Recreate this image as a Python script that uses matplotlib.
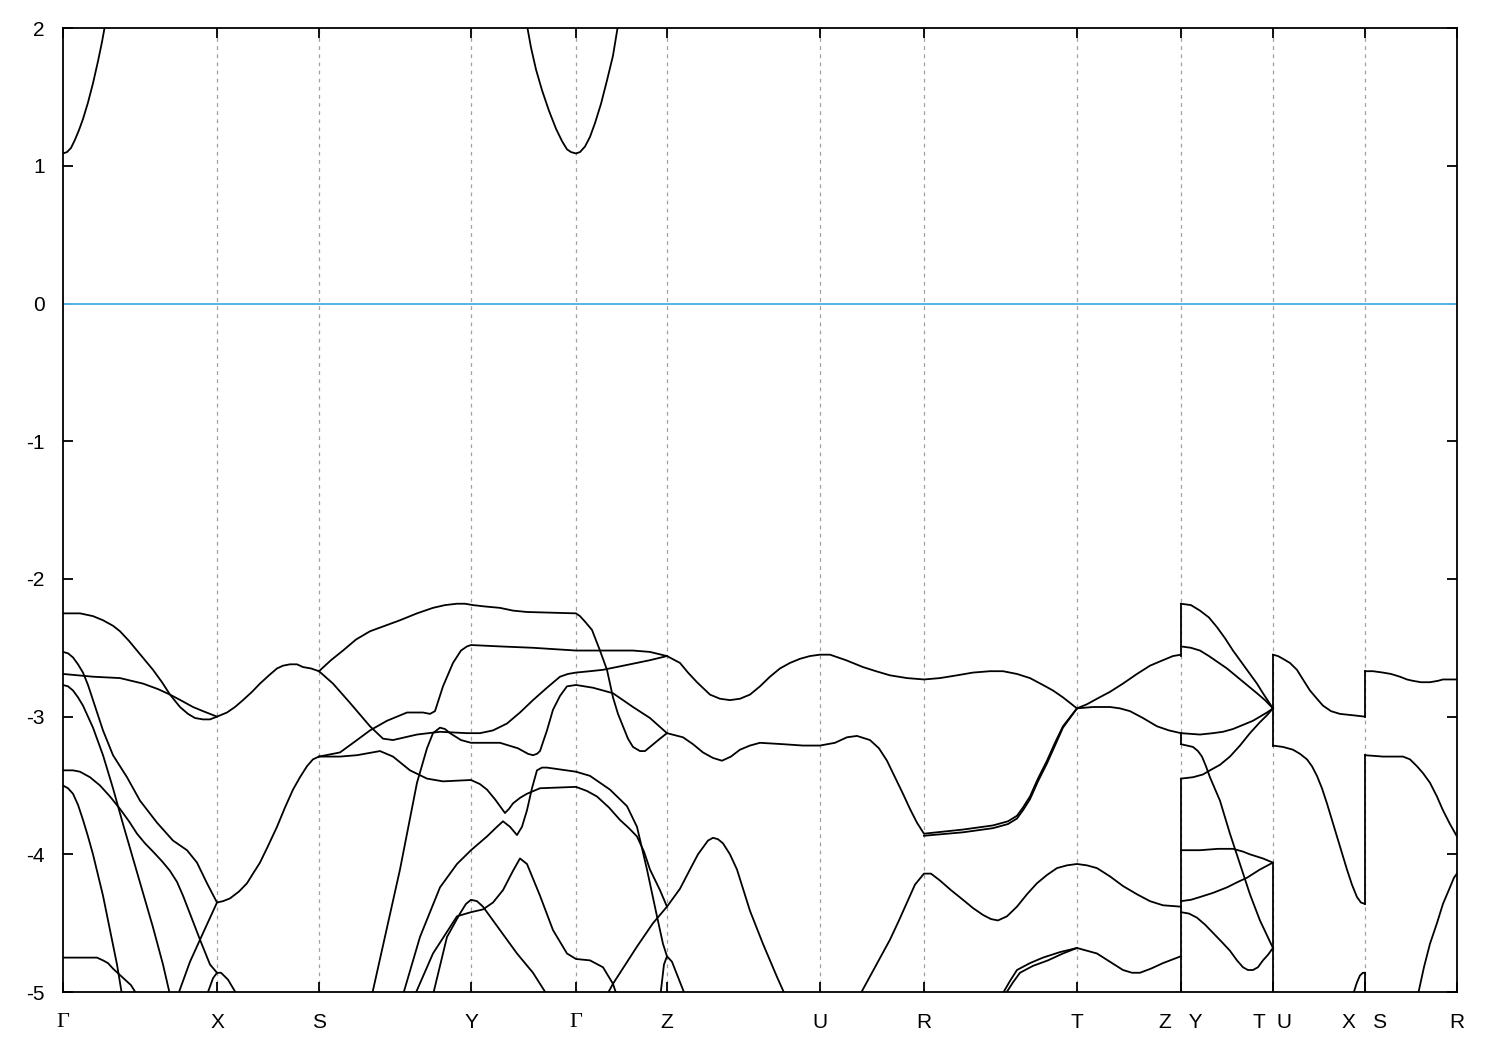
import matplotlib
matplotlib.use("Agg")
import matplotlib.pyplot as plt

# ---------------- k-path ----------------
K_TICKS = [0.000, 0.154, 0.256, 0.408, 0.513, 0.604, 0.757, 0.861, 1.014, 1.118, 1.210, 1.302, 1.394]
K_LABELS = ["Γ", "X", "S", "Y", "Γ", "Z", "U", "R", "T", "Z   Y", "T  U", "X   S", "R"]
E_MIN, E_MAX = -5.0, 2.0
E_FERMI = 0.0

# ---------------- conduction bands ----------------
cond_bands = [
    ([0.000, 0.004, 0.008, 0.012, 0.016, 0.020, 0.025, 0.030, 0.035, 0.039, 0.042],
     [1.09, 1.10, 1.13, 1.19, 1.26, 1.34, 1.46, 1.60, 1.76, 1.90, 2.02]),
    ([0.464, 0.468, 0.473, 0.479, 0.486, 0.493, 0.499, 0.504, 0.508, 0.513, 0.517, 0.522, 0.527,
      0.532, 0.538, 0.544, 0.550, 0.555],
     [2.02, 1.86, 1.70, 1.55, 1.40, 1.27, 1.18, 1.12, 1.10, 1.09, 1.10, 1.14, 1.21,
      1.31, 1.45, 1.62, 1.80, 2.02]),
]

# ---------------- valence bands, Γ-X-S ----------------
bands_GXS = [
    ([0.000, 0.017, 0.030, 0.040, 0.050, 0.057, 0.066, 0.074, 0.082, 0.090, 0.099, 0.107, 0.117,
      0.125, 0.132, 0.140, 0.147, 0.154, 0.164, 0.172, 0.180, 0.189, 0.197, 0.206, 0.214, 0.220,
      0.227, 0.234, 0.240, 0.248, 0.256],
     [-2.25, -2.25, -2.27, -2.30, -2.34, -2.38, -2.45, -2.52, -2.59, -2.66, -2.75, -2.84, -2.93,
      -2.98, -3.01, -3.02, -3.02, -3.00, -2.97, -2.93, -2.88, -2.82, -2.76, -2.70, -2.65, -2.63,
      -2.62, -2.62, -2.64, -2.65, -2.67]),
    ([0.000, 0.030, 0.057, 0.080, 0.095, 0.107, 0.120, 0.130, 0.140, 0.147, 0.154],
     [-2.69, -2.71, -2.72, -2.76, -2.80, -2.84, -2.89, -2.93, -2.96, -2.98, -3.00]),
    ([0.000, 0.005, 0.010, 0.015, 0.020, 0.025, 0.030, 0.040, 0.050, 0.064, 0.077, 0.094, 0.110,
      0.124, 0.134, 0.144, 0.154, 0.160, 0.167, 0.176, 0.184, 0.190, 0.197, 0.205, 0.214, 0.222,
      0.230, 0.237, 0.244, 0.250, 0.256],
     [-2.53, -2.54, -2.57, -2.62, -2.68, -2.77, -2.88, -3.10, -3.28, -3.44, -3.61, -3.77, -3.90,
      -3.97, -4.06, -4.21, -4.35, -4.34, -4.32, -4.27, -4.21, -4.14, -4.06, -3.94, -3.80, -3.66,
      -3.53, -3.44, -3.36, -3.31, -3.29]),
    ([0.000, 0.005, 0.010, 0.015, 0.020, 0.030, 0.040, 0.050, 0.060, 0.070, 0.080, 0.090, 0.100,
      0.107],
     [-2.77, -2.78, -2.81, -2.86, -2.92, -3.08, -3.28, -3.52, -3.78, -4.03, -4.28, -4.53, -4.80,
      -5.02]),
    ([0.000, 0.010, 0.017, 0.027, 0.037, 0.047, 0.057, 0.066, 0.074, 0.082, 0.090, 0.099, 0.107,
      0.114, 0.120, 0.128, 0.137, 0.147, 0.154],
     [-3.39, -3.39, -3.40, -3.44, -3.50, -3.58, -3.67, -3.76, -3.85, -3.92, -3.98, -4.05, -4.12,
      -4.20, -4.30, -4.45, -4.62, -4.80, -4.86]),
    ([0.000, 0.005, 0.010, 0.015, 0.020, 0.025, 0.030, 0.035, 0.040, 0.047, 0.054, 0.059],
     [-3.50, -3.52, -3.56, -3.64, -3.75, -3.87, -4.00, -4.15, -4.30, -4.55, -4.80, -5.02]),
    ([0.115, 0.127, 0.137, 0.154], [-5.02, -4.78, -4.62, -4.35]),
    ([0.144, 0.150, 0.154, 0.158, 0.165, 0.174], [-5.02, -4.90, -4.86, -4.86, -4.91, -5.02]),
    ([0.000, 0.024, 0.034, 0.040, 0.045, 0.050, 0.056, 0.062, 0.068, 0.074],
     [-4.75, -4.75, -4.75, -4.77, -4.79, -4.83, -4.87, -4.91, -4.95, -5.02]),
]

# ---------------- valence bands, S-Y-Γ-Z ----------------
bands_SYGZ = [
    ([0.256, 0.268, 0.280, 0.293, 0.307, 0.322, 0.337, 0.354, 0.370, 0.382, 0.394, 0.402, 0.410,
      0.422, 0.437, 0.450, 0.464, 0.513, 0.517, 0.522, 0.529, 0.537, 0.544, 0.550, 0.555, 0.560,
      0.565, 0.570, 0.577, 0.582, 0.587, 0.597, 0.604],
     [-2.67, -2.59, -2.52, -2.44, -2.38, -2.34, -2.30, -2.25, -2.21, -2.19, -2.18, -2.18, -2.19,
      -2.20, -2.21, -2.23, -2.24, -2.25, -2.27, -2.31, -2.37, -2.52, -2.66, -2.86, -2.98, -3.07,
      -3.16, -3.22, -3.25, -3.25, -3.22, -3.16, -3.12]),
    ([0.256, 0.270, 0.287, 0.307, 0.320, 0.330, 0.342, 0.354, 0.377, 0.404, 0.417, 0.430, 0.444,
      0.457, 0.470, 0.484, 0.497, 0.505, 0.513, 0.527, 0.540, 0.567, 0.587, 0.604],
     [-2.67, -2.76, -2.90, -3.07, -3.16, -3.17, -3.15, -3.13, -3.11, -3.12, -3.12, -3.10, -3.05,
      -2.97, -2.88, -2.79, -2.71, -2.69, -2.68, -2.67, -2.66, -2.62, -2.59, -2.56]),
    ([0.256, 0.277, 0.294, 0.307, 0.324, 0.344, 0.360, 0.367, 0.372, 0.380, 0.390, 0.398, 0.404,
      0.408, 0.437, 0.470, 0.513, 0.570, 0.587, 0.604],
     [-3.29, -3.26, -3.17, -3.10, -3.03, -2.97, -2.97, -2.98, -2.96, -2.78, -2.61, -2.52, -2.49,
      -2.48, -2.49, -2.50, -2.52, -2.52, -2.53, -2.56]),
    ([0.256, 0.277, 0.294, 0.317, 0.330, 0.347, 0.364, 0.380, 0.408, 0.417, 0.424, 0.432, 0.437,
      0.442, 0.446, 0.450, 0.457, 0.464, 0.477, 0.513, 0.524, 0.534, 0.546, 0.557, 0.566, 0.574,
      0.581, 0.587, 0.597, 0.604],
     [-3.29, -3.29, -3.28, -3.25, -3.29, -3.39, -3.45, -3.47, -3.46, -3.49, -3.53, -3.60, -3.65,
      -3.70, -3.67, -3.63, -3.59, -3.56, -3.52, -3.51, -3.54, -3.58, -3.66, -3.75, -3.81, -3.87,
      -3.98, -4.11, -4.26, -4.38]),
    ([0.309, 0.337, 0.354, 0.364, 0.370, 0.377, 0.382, 0.387, 0.398, 0.408, 0.437, 0.455, 0.465,
      0.470, 0.474, 0.477, 0.484, 0.490, 0.497, 0.504, 0.513, 0.530, 0.550, 0.570, 0.587, 0.604],
     [-5.02, -4.11, -3.48, -3.23, -3.12, -3.08, -3.09, -3.12, -3.17, -3.19, -3.19, -3.23, -3.27,
      -3.28, -3.27, -3.25, -3.10, -2.95, -2.85, -2.78, -2.77, -2.79, -2.83, -2.93, -3.01, -3.12]),
    ([0.340, 0.357, 0.377, 0.394, 0.408, 0.424, 0.434, 0.440, 0.447, 0.454, 0.459, 0.464, 0.469,
      0.474, 0.479, 0.484, 0.513, 0.527, 0.547, 0.564, 0.574, 0.584, 0.594, 0.600, 0.604],
     [-5.02, -4.60, -4.24, -4.07, -3.97, -3.87, -3.80, -3.76, -3.80, -3.86, -3.80, -3.68, -3.52,
      -3.39, -3.37, -3.37, -3.40, -3.43, -3.53, -3.65, -3.80, -4.11, -4.45, -4.65, -4.74]),
    ([0.352, 0.370, 0.394, 0.408, 0.420, 0.430, 0.440, 0.450, 0.457, 0.464, 0.477, 0.490, 0.504,
      0.513, 0.527, 0.540, 0.550, 0.555],
     [-5.02, -4.72, -4.45, -4.42, -4.40, -4.35, -4.26, -4.12, -4.03, -4.07, -4.30, -4.55, -4.72,
      -4.76, -4.77, -4.82, -4.94, -5.05]),
    ([0.370, 0.384, 0.397, 0.403, 0.408, 0.414, 0.420, 0.437, 0.454, 0.470, 0.484],
     [-5.02, -4.60, -4.43, -4.36, -4.33, -4.34, -4.38, -4.55, -4.72, -4.86, -5.02]),
    ([0.544, 0.550, 0.574, 0.590, 0.604, 0.617, 0.627, 0.635, 0.640, 0.645, 0.650, 0.655, 0.660,
      0.667, 0.674, 0.687, 0.700, 0.714, 0.722],
     [-5.02, -4.94, -4.67, -4.50, -4.38, -4.25, -4.11, -4.00, -3.95, -3.90, -3.88, -3.89, -3.92,
      -4.00, -4.11, -4.41, -4.65, -4.89, -5.02]),
    ([0.597, 0.601, 0.604, 0.609, 0.622], [-5.05, -4.80, -4.74, -4.78, -5.02]),
]

# ---------------- valence bands, Z-U-R-T-Z ----------------
bands_ZURTZ = [
    ([0.604, 0.617, 0.625, 0.634, 0.647, 0.657, 0.667, 0.677, 0.687, 0.697, 0.707, 0.717, 0.727,
      0.737, 0.747, 0.757, 0.767, 0.783, 0.800, 0.813, 0.827, 0.844, 0.861, 0.877, 0.894, 0.910,
      0.927, 0.940, 0.954, 0.967, 0.980, 0.990, 1.000, 1.014],
     [-2.56, -2.61, -2.68, -2.75, -2.84, -2.87, -2.88, -2.87, -2.84, -2.78, -2.71, -2.65, -2.61,
      -2.58, -2.56, -2.55, -2.55, -2.59, -2.64, -2.67, -2.70, -2.72, -2.73, -2.72, -2.70, -2.68,
      -2.67, -2.67, -2.69, -2.72, -2.77, -2.81, -2.86, -2.94]),
    ([0.604, 0.620, 0.630, 0.640, 0.650, 0.659, 0.668, 0.677, 0.687, 0.697, 0.720, 0.740, 0.757,
      0.772, 0.784, 0.794, 0.807, 0.816, 0.824, 0.832, 0.840, 0.847, 0.854, 0.861, 0.900, 0.930,
      0.945, 0.954, 0.960, 0.967, 0.975, 0.984, 0.992, 1.000, 1.014],
     [-3.12, -3.15, -3.20, -3.26, -3.30, -3.32, -3.29, -3.24, -3.21, -3.19, -3.20, -3.21, -3.21,
      -3.19, -3.15, -3.14, -3.17, -3.23, -3.32, -3.44, -3.56, -3.67, -3.77, -3.85, -3.82, -3.79,
      -3.76, -3.72, -3.66, -3.58, -3.45, -3.32, -3.19, -3.07, -2.94]),
    ([0.861, 0.900, 0.930, 0.945, 0.954, 0.960, 0.967, 0.975, 0.984, 0.992, 1.000, 1.014],
     [-3.865, -3.84, -3.81, -3.78, -3.74, -3.68, -3.60, -3.47, -3.34, -3.21, -3.08, -2.94]),
    ([0.797, 0.812, 0.827, 0.836, 0.844, 0.852, 0.861, 0.868, 0.877, 0.888, 0.900, 0.910, 0.920,
      0.928, 0.935, 0.944, 0.954, 0.964, 0.974, 0.984, 0.994, 1.004, 1.014, 1.024, 1.034, 1.047,
      1.060, 1.074, 1.087, 1.100, 1.118],
     [-5.02, -4.82, -4.62, -4.48, -4.35, -4.22, -4.14, -4.14, -4.19, -4.26, -4.33, -4.39, -4.44,
      -4.47, -4.48, -4.45, -4.38, -4.29, -4.21, -4.15, -4.10, -4.08, -4.07, -4.08, -4.10, -4.16,
      -4.23, -4.29, -4.34, -4.37, -4.38]),
    ([0.939, 0.947, 0.954, 0.967, 0.980, 0.997, 1.014, 1.034, 1.047, 1.060, 1.069, 1.077, 1.088,
      1.100, 1.118],
     [-5.02, -4.92, -4.84, -4.79, -4.75, -4.71, -4.68, -4.72, -4.78, -4.84, -4.86, -4.86, -4.83,
      -4.79, -4.74]),
    ([0.942, 0.950, 0.957, 0.970, 0.985, 1.000, 1.014],
     [-5.02, -4.93, -4.86, -4.81, -4.77, -4.72, -4.68]),
    ([1.014, 1.024, 1.034, 1.047, 1.060, 1.074, 1.087, 1.100, 1.110, 1.118],
     [-2.94, -2.91, -2.87, -2.82, -2.76, -2.69, -2.63, -2.59, -2.56, -2.55]),
    ([1.014, 1.030, 1.047, 1.057, 1.067, 1.080, 1.094, 1.106, 1.118],
     [-2.94, -2.93, -2.93, -2.94, -2.96, -3.01, -3.07, -3.10, -3.12]),
]

# ---------------- valence bands, Y-T ----------------
bands_YT = [
    ([1.118, 1.128, 1.137, 1.146, 1.154, 1.162, 1.170, 1.178, 1.187, 1.194, 1.200, 1.210],
     [-2.18, -2.19, -2.23, -2.28, -2.35, -2.43, -2.52, -2.60, -2.69, -2.76, -2.83, -2.94]),
    ([1.118, 1.128, 1.137, 1.146, 1.154, 1.164, 1.174, 1.184, 1.194, 1.202, 1.210],
     [-2.49, -2.50, -2.52, -2.56, -2.60, -2.65, -2.71, -2.77, -2.83, -2.88, -2.94]),
    ([1.118, 1.137, 1.150, 1.160, 1.170, 1.180, 1.190, 1.197, 1.204, 1.210],
     [-3.12, -3.13, -3.12, -3.11, -3.09, -3.06, -3.03, -3.00, -2.97, -2.94]),
    ([1.118, 1.130, 1.140, 1.147, 1.157, 1.167, 1.177, 1.187, 1.197, 1.204, 1.210],
     [-3.45, -3.44, -3.42, -3.39, -3.35, -3.29, -3.21, -3.12, -3.04, -2.99, -2.94]),
    ([1.118, 1.124, 1.130, 1.135, 1.139, 1.143, 1.147, 1.157, 1.167, 1.177, 1.187, 1.197, 1.210],
     [-3.20, -3.21, -3.22, -3.25, -3.29, -3.36, -3.44, -3.61, -3.85, -4.07, -4.29, -4.48, -4.68]),
    ([1.118, 1.137, 1.155, 1.170, 1.180, 1.187, 1.200, 1.210],
     [-3.97, -3.97, -3.96, -3.96, -3.98, -4.00, -4.03, -4.06]),
    ([1.118, 1.128, 1.137, 1.150, 1.164, 1.175, 1.184, 1.197, 1.210],
     [-4.34, -4.33, -4.31, -4.28, -4.24, -4.20, -4.17, -4.11, -4.06]),
    ([1.118, 1.126, 1.134, 1.142, 1.150, 1.158, 1.167, 1.174, 1.180, 1.185, 1.190, 1.195, 1.200,
      1.205, 1.210],
     [-4.42, -4.43, -4.46, -4.51, -4.57, -4.63, -4.70, -4.77, -4.82, -4.84, -4.84, -4.82, -4.77,
      -4.73, -4.68]),
]

# ---------------- valence bands, U-X ----------------
bands_UX = [
    ([1.210, 1.215, 1.220, 1.227, 1.234, 1.240, 1.247, 1.254, 1.260, 1.268, 1.277, 1.290, 1.302],
     [-2.55, -2.56, -2.58, -2.61, -2.66, -2.73, -2.81, -2.87, -2.92, -2.96, -2.98, -2.99, -3.00]),
    ([1.210, 1.220, 1.230, 1.237, 1.244, 1.249, 1.254, 1.259, 1.264, 1.269, 1.274, 1.279, 1.284,
      1.289, 1.294, 1.298, 1.302],
     [-3.21, -3.22, -3.24, -3.27, -3.31, -3.36, -3.43, -3.52, -3.63, -3.75, -3.87, -3.99, -4.11,
      -4.22, -4.31, -4.35, -4.36]),
    ([1.290, 1.294, 1.297, 1.300, 1.302], [-5.02, -4.93, -4.88, -4.86, -4.86]),
]

# ---------------- valence bands, S-R ----------------
bands_SR = [
    ([1.302, 1.310, 1.320, 1.328, 1.337, 1.344, 1.350, 1.358, 1.367, 1.375, 1.380, 1.387, 1.394],
     [-2.67, -2.67, -2.68, -2.69, -2.71, -2.73, -2.74, -2.75, -2.75, -2.74, -2.73, -2.73, -2.73]),
    ([1.302, 1.320, 1.333, 1.340, 1.347, 1.354, 1.360, 1.367, 1.374, 1.380, 1.387, 1.394],
     [-3.28, -3.29, -3.29, -3.29, -3.31, -3.36, -3.41, -3.48, -3.58, -3.68, -3.78, -3.87]),
    ([1.355, 1.361, 1.367, 1.374, 1.380, 1.387, 1.391, 1.394],
     [-5.02, -4.82, -4.65, -4.50, -4.36, -4.24, -4.17, -4.14]),
]

# vertical joins drawn at the path discontinuities (k, E_low, E_high)
jumps = [
    (1.118, -2.56, -2.18), (1.118, -3.20, -3.12), (1.118, -5.05, -3.45),
    (1.210, -3.21, -2.55), (1.210, -5.05, -4.06),
    (1.302, -3.00, -2.67), (1.302, -4.36, -3.28), (1.302, -5.05, -4.86),
]

# ---------------- plotting ----------------
plt.rcParams['font.family'] = ['Liberation Sans', 'DejaVu Sans']
fig = plt.figure(figsize=(15, 10.5), dpi=100)
ax = fig.add_axes([0.042, 0.0552, 0.9293, 0.918])

for kx in K_TICKS[1:-1]:
    ax.axvline(kx, color='#a0a0a0', lw=0.9, ls=(0, (3, 3.5)), zorder=1)

ax.axhline(E_FERMI, color='#56b4e9', lw=1.4, zorder=2)

for group in (cond_bands, bands_GXS, bands_SYGZ, bands_ZURTZ, bands_YT, bands_UX, bands_SR):
    for kk, ee in group:
        ax.plot(kk, ee, color='black', lw=1.3, solid_joinstyle='round', zorder=3)

for kx, e0, e1 in jumps:
    ax.plot([kx, kx], [e0, e1], color='black', lw=1.3, zorder=3)

ax.set_xlim(K_TICKS[0], K_TICKS[-1])
ax.set_ylim(E_MIN, E_MAX)
ax.set_yticks(range(-5, 3))
ax.set_yticklabels([str(v) for v in range(-5, 3)], fontsize=15)
ax.set_xticks(K_TICKS)
ax.set_xticklabels(K_LABELS, fontsize=15)
for lab in ax.get_xticklabels():
    if lab.get_text() == "Γ":
        lab.set_family(['Liberation Serif', 'DejaVu Serif'])
        lab.set_fontsize(16)

ax.tick_params(axis='both', direction='in', length=7, width=1.3, top=True, right=True)
ax.tick_params(axis='x', pad=15)
ax.tick_params(axis='y', pad=13)
for sp in ax.spines.values():
    sp.set_linewidth(1.3)

fig.savefig("out.png", dpi=100)
